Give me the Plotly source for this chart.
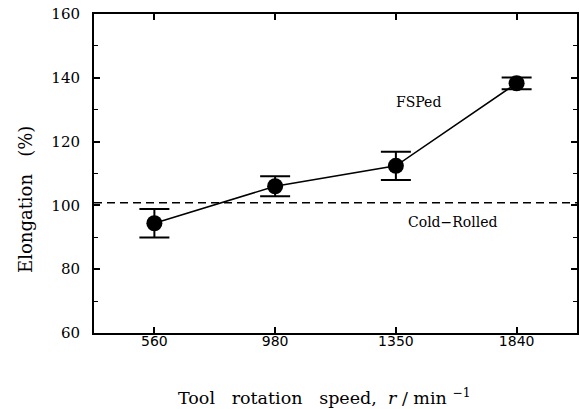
import plotly.graph_objects as go

speeds = ["560", "980", "1350", "1840"]
elongation = [94.4, 106.0, 112.4, 138.3]
err_plus = [4.5, 3.1, 4.4, 1.8]
err_minus = [4.5, 3.1, 4.4, 1.9]
cold_rolled = 100.8
y_ticks = [60, 80, 100, 120, 140, 160]

SERIF = "DejaVu Serif"
SANS = "DejaVu Sans"

fig = go.Figure()
fig.add_trace(go.Scatter(
    x=speeds, y=elongation, mode="lines+markers",
    line=dict(color="black", width=1.5),
    marker=dict(color="black", size=16),
    error_y=dict(type="data", array=err_plus, arrayminus=err_minus,
                 color="black", thickness=2, width=15),
    showlegend=False,
))
fig.add_shape(type="line", xref="paper", x0=0, x1=1, yref="y", y0=cold_rolled, y1=cold_rolled,
              line=dict(color="black", width=1.5, dash="8px,5px"))

fig.add_annotation(x=2.19, y=132.4, text="FSPed", showarrow=False,
                   font=dict(family=SERIF, size=14, color="black"), xanchor="center", yanchor="middle")
fig.add_annotation(x=2.47, y=94.8, text="Cold\u2212Rolled", showarrow=False,
                   font=dict(family=SERIF, size=14, color="black"), xanchor="center", yanchor="middle")

# axis titles
fig.add_annotation(xref="paper", yref="paper", x=0.477, y=-0.20,
                   text="Tool\u00a0\u00a0\u00a0rotation\u00a0\u00a0\u00a0speed,\u00a0\u00a0<i>r</i>\u00a0/\u00a0min\u00a0<sup>\u22121</sup>",
                   showarrow=False, font=dict(family=SERIF, size=17.5, color="black"),
                   xanchor="center", yanchor="middle")
fig.add_annotation(xref="paper", yref="paper", x=-0.143, y=0.42,
                   text="Elongation\u00a0\u00a0\u00a0(%)", textangle=-90,
                   showarrow=False, font=dict(family=SERIF, size=18, color="black"),
                   xanchor="center", yanchor="middle")

fig.update_xaxes(
    type="category", categoryorder="array", categoryarray=speeds,
    range=[-0.5, 3.5], showgrid=False, zeroline=False,
    showline=True, linecolor="black", linewidth=2, mirror="ticks",
    ticks="inside", ticklen=6, tickwidth=1.5, tickcolor="black",
    tickfont=dict(family=SANS, size=14, color="black"),
    ticklabelstandoff=-6,
)
fig.update_yaxes(
    range=[60, 160], tickvals=y_ticks, showgrid=False, zeroline=False,
    showline=True, linecolor="black", linewidth=2, mirror="ticks",
    ticks="inside", ticklen=6, tickwidth=1.5, tickcolor="black",
    minor=dict(dtick=10, ticks="inside", ticklen=4, tickcolor="black", tickwidth=1.2, showgrid=False),
    tickfont=dict(family=SERIF, size=15, color="black"),
    ticklabelstandoff=9,
)

fig.update_layout(
    width=579, height=409,
    margin=dict(l=94, r=2, t=14, b=76, autoexpand=False),
    plot_bgcolor="white", paper_bgcolor="white",
)
fig.write_html("out.html", config={"displayModeBar": False},
               post_script="document.body.style.margin='0';document.body.style.padding='0';")
